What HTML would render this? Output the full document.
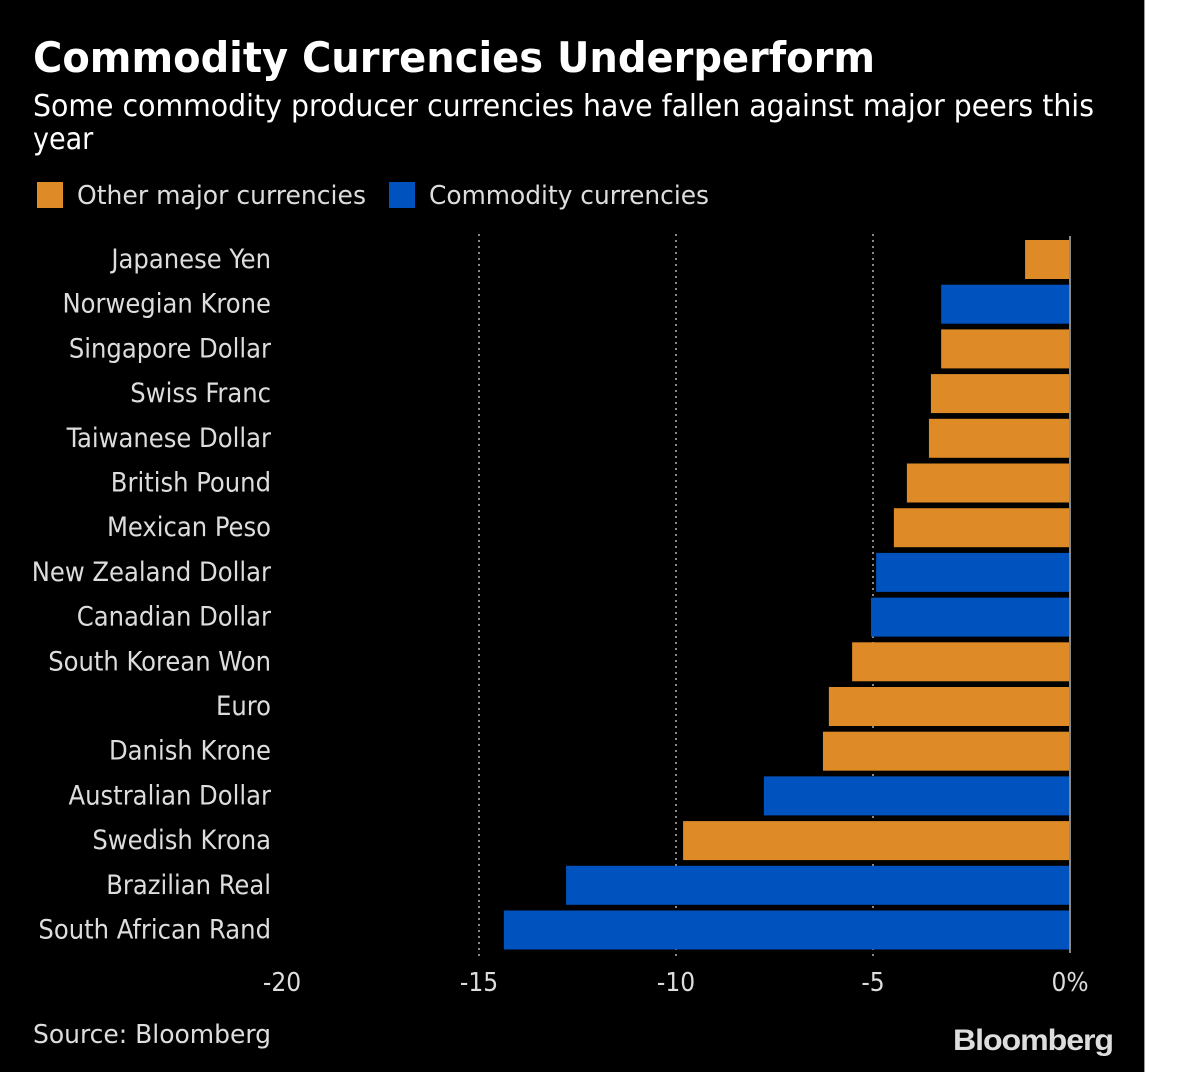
<!DOCTYPE html>
<html><head><meta charset="utf-8"><style>
html,body{margin:0;padding:0;background:#fff;}
svg{display:block;font-family:"DejaVu Sans Condensed","DejaVu Sans","Liberation Sans",sans-serif;}
</style></head><body>
<svg id="chart" width="1200" height="1072" viewBox="0 0 1200 1072">
<rect x="0" y="0" width="1144" height="1072" fill="#000"/>
<line x1="1144.5" y1="0" x2="1144.5" y2="1072" stroke="#999" stroke-width="1"/>
<text x="33" y="72" fill="#fff" font-size="42" font-weight="bold" textLength="842" lengthAdjust="spacingAndGlyphs">Commodity Currencies Underperform</text>
<text x="33" y="116" fill="#fff" font-size="30" textLength="1061" lengthAdjust="spacingAndGlyphs">Some commodity producer currencies have fallen against major peers this</text>
<text x="33" y="149" fill="#fff" font-size="30">year</text>
<g>
<rect x="37" y="182" width="26" height="26" fill="#dd8a27"/>
<text x="77" y="204" fill="#ddd" font-size="26" textLength="289" lengthAdjust="spacingAndGlyphs">Other major currencies</text>
<rect x="389" y="182" width="26" height="26" fill="#0052be"/>
<text x="429" y="204" fill="#ddd" font-size="26" textLength="280" lengthAdjust="spacingAndGlyphs">Commodity currencies</text>
</g>
<g id="grid"></g><g id="bars"></g><g id="labels"></g><g id="ticks"></g>
<text x="33" y="1043" fill="#ddd" font-size="26" textLength="238" lengthAdjust="spacingAndGlyphs">Source: Bloomberg</text>
<text x="1113" y="1050" fill="#ddd" font-size="30" font-weight="bold" text-anchor="end" font-family="Liberation Sans, sans-serif" textLength="160" lengthAdjust="spacingAndGlyphs" letter-spacing="-1">Bloomberg</text>
</svg>
<script>
const categories=["Japanese Yen","Norwegian Krone","Singapore Dollar","Swiss Franc","Taiwanese Dollar","British Pound","Mexican Peso","New Zealand Dollar","Canadian Dollar","South Korean Won","Euro","Danish Krone","Australian Dollar","Swedish Krona","Brazilian Real","South African Rand"];
const values=[-1.14,-3.27,-3.27,-3.53,-3.58,-4.14,-4.47,-4.92,-5.05,-5.53,-6.12,-6.27,-7.77,-9.82,-12.79,-14.37];
const groups=["other","commodity","other","other","other","other","other","commodity","commodity","other","other","other","commodity","other","commodity","commodity"];
const tickValues=[-20,-15,-10,-5,0];
const tickLabels=["-20","-15","-10","-5","0%"];
const NS="http://www.w3.org/2000/svg";
const x=v=>1070+v*39.4;
const y=i=>240+i*44.7;
const bh=39;
const colors={other:"#dd8a27",commodity:"#0052be"};
function mk(t,a,p){const e=document.createElementNS(NS,t);for(const k in a)e.setAttribute(k,a[k]);document.getElementById(p).appendChild(e);return e;}
tickValues.forEach((v,i)=>{
  if(v>-20&&v<0){
    const g=mk("line",{x1:x(v),x2:x(v),y1:234,y2:956,stroke:"#888","stroke-width":2,"stroke-dasharray":"2,4"},"grid");
    
    
  }
  const t=mk("text",{x:x(v),y:991,fill:"#ddd","font-size":26,"text-anchor":"middle"},"ticks");
  t.textContent=tickLabels[i];
  
  
});
categories.forEach((c,i)=>{
  const r=mk("rect",{x:x(values[i]),y:y(i),width:x(0)-x(values[i]),height:bh,fill:colors[groups[i]]},"bars");
  
  
  const t=mk("text",{x:271,y:y(i)+28,fill:"#ddd","font-size":27,"text-anchor":"end"},"labels");
  t.textContent=c;
  
  
});
const z=mk("line",{x1:x(0),x2:x(0),y1:236,y2:953,stroke:"#888","stroke-width":2},"ticks");


</script>
</body></html>
